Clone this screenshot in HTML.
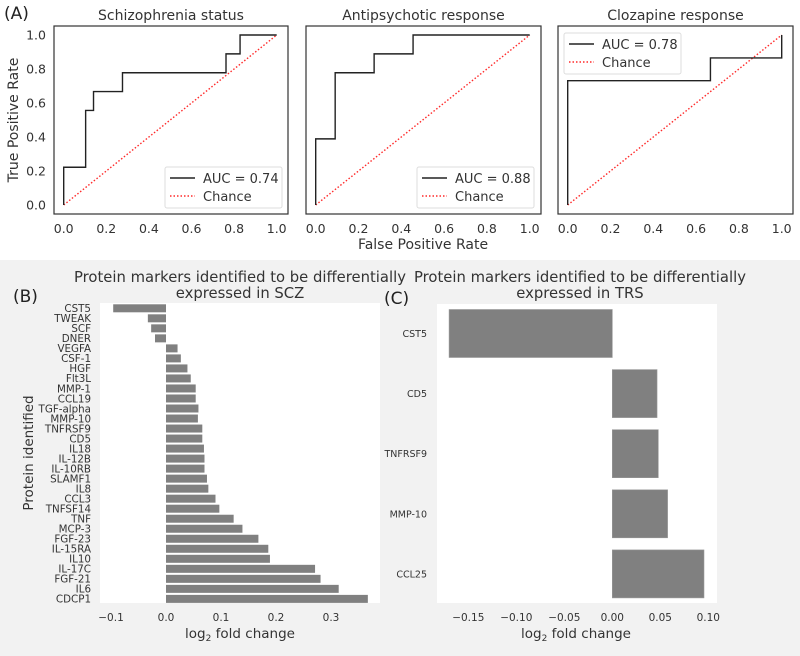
<!DOCTYPE html>
<html><head><meta charset="utf-8"><style>
body{margin:0;background:#fff;}
svg{display:block;font-family:"DejaVu Sans","Liberation Sans",sans-serif;}
</style></head><body>
<svg id="fig" width="800" height="656" viewBox="0 0 800 656">
<rect x="0" y="260" width="800" height="396" fill="#f2f2f2"/>
<g id="gA"></g>
<g id="gB"></g>
<g id="gC"></g>
</svg>
<script>
const NS="http://www.w3.org/2000/svg";
function mk(p,tag,at,txt){const e=document.createElementNS(NS,tag);for(const k in at)e.setAttribute(k,at[k]);if(txt!==undefined)e.textContent=txt;p.appendChild(e);return e;}

// ---- Panel A data ----
const rocTitles=["Schizophrenia status","Antipsychotic response","Clozapine response"];
const rocAuc=["0.74","0.88","0.78"];
const roc1X=[0,0,0.103,0.103,0.14,0.14,0.276,0.276,0.762,0.762,0.828,0.828,1];
const roc1Y=[0,0.222,0.222,0.556,0.556,0.667,0.667,0.778,0.778,0.889,0.889,1,1];
const roc2X=[0,0,0.091,0.091,0.273,0.273,0.455,0.455,1];
const roc2Y=[0,0.389,0.389,0.778,0.778,0.889,0.889,1,1];
const roc3X=[0,0,0.667,0.667,1,1];
const roc3Y=[0,0.731,0.731,0.865,0.865,1];
const rocTicks=[0,0.2,0.4,0.6,0.8,1.0];

// ---- Panel B data ----
const sczProteins=["CST5","TWEAK","SCF","DNER","VEGFA","CSF-1","HGF","Flt3L","MMP-1","CCL19","TGF-alpha","MMP-10","TNFRSF9","CD5","IL18","IL-12B","IL-10RB","SLAMF1","IL8","CCL3","TNFSF14","TNF","MCP-3","FGF-23","IL-15RA","IL10","IL-17C","FGF-21","IL6","CDCP1"];
const sczValues=[-0.096,-0.033,-0.027,-0.020,0.021,0.027,0.039,0.045,0.054,0.054,0.059,0.058,0.066,0.066,0.069,0.070,0.070,0.0745,0.077,0.090,0.097,0.123,0.139,0.168,0.186,0.189,0.271,0.281,0.314,0.367];
const sczTicks=[-0.1,0.0,0.1,0.2,0.3];

// ---- Panel C data ----
const trsProteins=["CST5","CD5","TNFRSF9","MMP-10","CCL25"];
const trsValues=[-0.170,0.0466,0.0479,0.0576,0.0955];
const trsTicks=[-0.15,-0.10,-0.05,0.00,0.05,0.10];

const TXT="#333";
// Panel A
const gA=document.getElementById('gA');
const t=mk(gA,'text',{x:4,y:19,'font-size':17,fill:'#222'},"(A)");

const boxes=[[54,288],[306,541],[558,793]];
const rocXs=[roc1X,roc2X,roc3X],rocYs=[roc1Y,roc2Y,roc3Y];
const legendPos=[[165,167],[417,167],[564,33]];
for(let i=0;i<3;i++){
  const [l,r]=boxes[i];
  const x0=l+9.7,x1=r-11.3,yTop=35,yBot=205;
  const sx=v=>x0+(x1-x0)*v, sy=v=>yBot-(yBot-yTop)*v;
  const g=mk(gA,'g',{});
  
  const tt=mk(g,'text',{x:(l+r)/2,y:20,'font-size':14,fill:TXT,'text-anchor':'middle'},rocTitles[i]);
  
  const ch=mk(g,'line',{x1:sx(0),y1:sy(0),x2:sx(1),y2:sy(1),stroke:'#ff2a2a','stroke-width':1.4,'stroke-dasharray':'1.5,2'});
  
  const pts=rocXs[i].map((v,k)=>sx(v)+','+sy(rocYs[i][k])).join(' ');
  const pl=mk(g,'polyline',{points:pts,fill:'none',stroke:'#222','stroke-width':1.4});
  
  const bx=mk(g,'rect',{x:l,y:26,width:r-l,height:188,fill:'none',stroke:'#333','stroke-width':1.2});
  
  rocTicks.forEach(v=>{
    const tx=mk(g,'text',{x:sx(v),y:233,'font-size':12.5,fill:TXT,'text-anchor':'middle'},v.toFixed(1));
    
    if(i===0){const ty=mk(g,'text',{x:46,y:sy(v)+4.5,'font-size':12.5,fill:TXT,'text-anchor':'end'},v.toFixed(1));
      }
  });
  const [lx,ly]=legendPos[i];
  const lg=mk(g,'g',{});
  
  mk(lg,'rect',{x:lx,y:ly,width:117,height:41,rx:2,fill:'#fff',stroke:'#ddd'});
  mk(lg,'line',{x1:lx+5,y1:ly+11,x2:lx+30,y2:ly+11,stroke:'#222','stroke-width':1.4});
  mk(lg,'text',{x:lx+38,y:ly+16,'font-size':13,fill:TXT},"AUC = "+rocAuc[i]);
  mk(lg,'line',{x1:lx+5,y1:ly+29,x2:lx+30,y2:ly+29,stroke:'#ff2a2a','stroke-width':1.4,'stroke-dasharray':'1.5,2'});
  mk(lg,'text',{x:lx+38,y:ly+34,'font-size':13,fill:TXT},"Chance");
}
let e=mk(gA,'text',{x:423,y:249,'font-size':14,fill:TXT,'text-anchor':'middle'},"False Positive Rate");

e=mk(gA,'text',{x:0,y:0,'font-size':14,fill:TXT,'text-anchor':'middle',transform:'translate(18,120) rotate(-90)'},"True Positive Rate");


// Panel B
const gB=document.getElementById('gB');
e=mk(gB,'text',{x:13,y:302,'font-size':17,fill:'#222'},"(B)");

e=mk(gB,'text',{x:240,y:282,'font-size':14.8,fill:TXT,'text-anchor':'middle'},"Protein markers identified to be differentially");

mk(gB,'text',{x:240,y:298,'font-size':14.8,fill:TXT,'text-anchor':'middle'},"expressed in SCZ");
e=mk(gB,'rect',{x:100,y:303,width:280,height:300,fill:'#fff'});

const bxs=v=>166+550*v;
const byc=i=>308.3+i*10.02;
sczValues.forEach((v,i)=>{
  const b=mk(gB,'rect',{x:Math.min(bxs(0),bxs(v)),y:byc(i)-4,width:Math.abs(bxs(v)-bxs(0)),height:8,fill:'#808080'});
  
  
  const l=mk(gB,'text',{x:91,y:byc(i)+3.8,'font-size':10.3,fill:TXT,'text-anchor':'end'},sczProteins[i]);
  
});
sczTicks.forEach(v=>{
  const l=mk(gB,'text',{x:bxs(v),y:621,'font-size':10.5,fill:TXT,'text-anchor':'middle'},(v<0?'\u2212':'')+Math.abs(v).toFixed(1));
  
});
e=mk(gB,'text',{x:240,y:638,'font-size':13.5,fill:TXT,'text-anchor':'middle'});

e.innerHTML='log<tspan font-size="9" dy="3">2</tspan><tspan dy="-3"> fold change</tspan>';
e=mk(gB,'text',{x:0,y:0,'font-size':13.5,fill:TXT,'text-anchor':'middle',transform:'translate(33,453) rotate(-90)'},"Protein identified");


// Panel C
const gC=document.getElementById('gC');
e=mk(gC,'text',{x:384,y:304,'font-size':17,fill:'#222'},"(C)");

e=mk(gC,'text',{x:580,y:282,'font-size':14.8,fill:TXT,'text-anchor':'middle'},"Protein markers identified to be differentially");

mk(gC,'text',{x:580,y:298,'font-size':14.8,fill:TXT,'text-anchor':'middle'},"expressed in TRS");
e=mk(gC,'rect',{x:437,y:304,width:280,height:299,fill:'#fff'});

const cxs=v=>612.3+960*v;
const cyc=i=>333.5+i*60.1;
trsValues.forEach((v,i)=>{
  const b=mk(gC,'rect',{x:Math.min(cxs(0),cxs(v)),y:cyc(i)-24,width:Math.abs(cxs(v)-cxs(0)),height:48,fill:'#808080',stroke:'#999','stroke-width':0.6});
  
  
  const l=mk(gC,'text',{x:427,y:cyc(i)+3.5,'font-size':9.5,fill:TXT,'text-anchor':'end'},trsProteins[i]);
  
});
trsTicks.forEach(v=>{
  const l=mk(gC,'text',{x:cxs(v),y:621,'font-size':10.5,fill:TXT,'text-anchor':'middle'},(v<0?'\u2212':'')+Math.abs(v).toFixed(2));
  
});
e=mk(gC,'text',{x:576,y:638,'font-size':13.5,fill:TXT,'text-anchor':'middle'});

e.innerHTML='log<tspan font-size="9" dy="3">2</tspan><tspan dy="-3"> fold change</tspan>';
</script>
</body></html>
